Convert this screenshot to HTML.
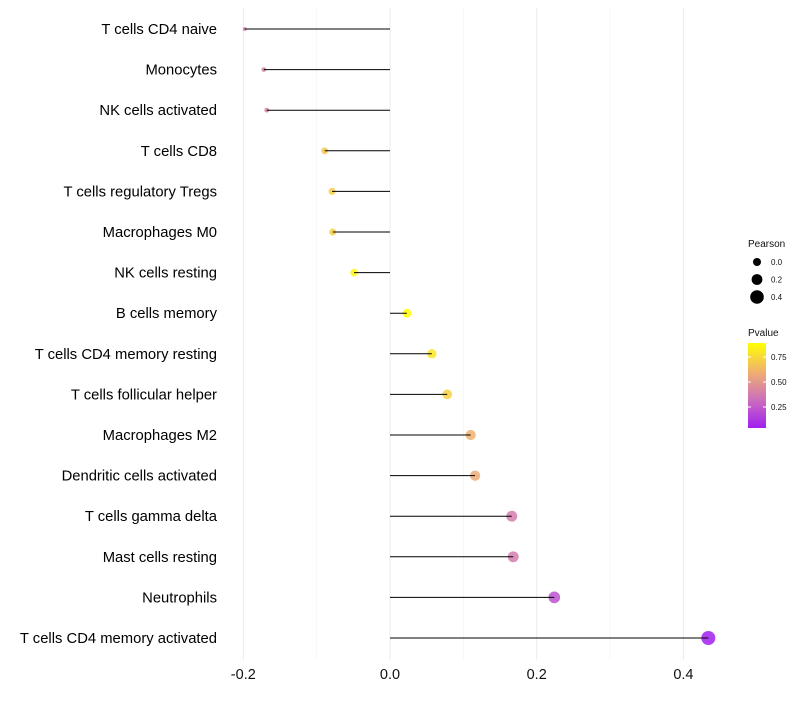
<!DOCTYPE html>
<html><head><meta charset="utf-8"><style>
body{margin:0;background:#fff;}
svg text{font-family:"Liberation Sans",sans-serif;}
</style></head><body>
<svg id="chart" width="800" height="700"></svg>
<script>
const categories=["T cells CD4 naive","Monocytes","NK cells activated","T cells CD8","T cells regulatory  Tregs ","Macrophages M0","NK cells resting","B cells memory","T cells CD4 memory resting","T cells follicular helper","Macrophages M2","Dendritic cells activated","T cells gamma delta","Mast cells resting","Neutrophils","T cells CD4 memory activated"];
const pearson=[-0.198,-0.172,-0.168,-0.089,-0.079,-0.078,-0.049,0.023,0.057,0.078,0.110,0.116,0.166,0.168,0.224,0.434];
const pvalues=[0.36,0.40,0.40,0.68,0.71,0.71,0.85,0.95,0.80,0.72,0.60,0.58,0.38,0.38,0.22,0.04];
const xTicks=[-0.2,0,0.2,0.4];
const xGrid=[-0.1,0.1,0.3];
const sizeTicks=[0.0,0.2,0.4];
const colorTicks=[0.25,0.50,0.75];

const svg=document.getElementById('chart');
const NS='http://www.w3.org/2000/svg';
function x(v){return 390+v*733.5;}
function y(i){return 29+i*40.6;}
function r(v){return Math.sqrt(Math.max(1.5,18+72*v));}
const stops=[[0,[160,32,240]],[0.33,[204,110,188]],[0.66,[240,176,112]],[1,[255,255,0]]];
function col(p){let t=Math.min(1,Math.max(0,(p-0.04)/0.85));
 for(let k=1;k<stops.length;k++){if(t<=stops[k][0]){const a=stops[k-1],b=stops[k];const f=(t-a[0])/(b[0]-a[0]);
 return 'rgb('+a[1].map((c,j)=>Math.round(c+(b[1][j]-c)*f)).join(',')+')';}}return 'rgb(255,255,0)';}
function el(tag,attrs,parent){const e=document.createElementNS(NS,tag);for(const k in attrs)e.setAttribute(k,attrs[k]);(parent||svg).appendChild(e);return e;}

xGrid.forEach(v=>{const l=el('line',{x1:x(v),x2:x(v),y1:8,y2:660,stroke:'#f2f2f2','stroke-width':0.6});

});
xTicks.forEach(v=>{const l=el('line',{x1:x(v),x2:x(v),y1:8,y2:660,stroke:'#ebebeb','stroke-width':1});


const t=el('text',{x:x(v),y:679,'text-anchor':'middle','font-size':14.5,fill:'#111'});t.textContent=v===0?'0.0':v.toFixed(1);

});

categories.forEach((c,i)=>{
 const t=el('text',{x:217,y:y(i)+5,'text-anchor':'end','font-size':14.8,fill:'#000'});t.textContent=c;
 
 
 const p=el('circle',{cx:x(pearson[i]),cy:y(i),r:r(pearson[i]),fill:col(pvalues[i]),'fill-opacity':0.85});
 
 
 const l=el('line',{x1:x(0),x2:x(pearson[i]),y1:y(i),y2:y(i),stroke:'#000','stroke-width':1});
 
 
});

const st=el('text',{x:748,y:247,'font-size':10,fill:'#111'});st.textContent='Pearson';


sizeTicks.forEach((v,k)=>{const cy=262+k*17.5;
 const c=el('circle',{cx:757,cy:cy,r:4+v*7,fill:'#000'});
 
 
 const t=el('text',{x:771,y:cy+3,'font-size':8,fill:'#111'});t.textContent=v.toFixed(1);
 
 });

const ct=el('text',{x:748,y:336,'font-size':10,fill:'#111'});ct.textContent='Pvalue';


const defs=el('defs',{});const g=el('linearGradient',{id:'pg',x1:0,y1:1,x2:0,y2:0},defs);
stops.forEach(s=>el('stop',{offset:s[0],'stop-color':'rgb('+s[1].join(',')+')'},g));
const bar=el('rect',{x:748,y:343,width:18,height:85,fill:'url(#pg)'});


function ly(p){return 428-(p-0.04)/0.85*85;}
colorTicks.forEach(v=>{const yy=ly(v);
 el('line',{x1:748,x2:751,y1:yy,y2:yy,stroke:'#fff'});el('line',{x1:763,x2:766,y1:yy,y2:yy,stroke:'#fff'});
 const t=el('text',{x:771,y:yy+3,'font-size':8,fill:'#111'});t.textContent=v.toFixed(2);
 
 });
</script>
</body></html>
